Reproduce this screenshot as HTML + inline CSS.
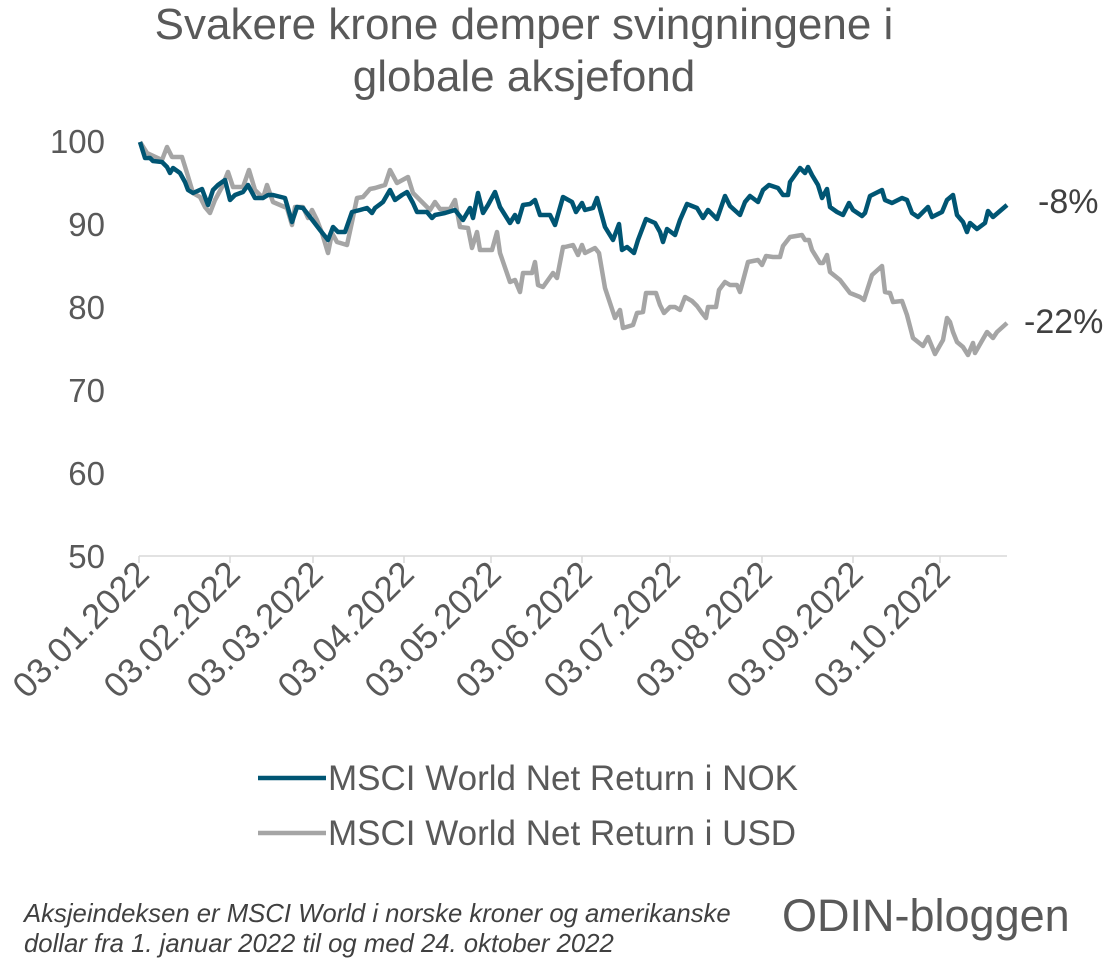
<!DOCTYPE html>
<html><head><meta charset="utf-8"><style>
html,body{margin:0;padding:0;background:#fff;}
svg{display:block;font-family:"Liberation Sans",Arial,sans-serif;}
</style></head><body>
<svg width="1116" height="966" viewBox="0 0 1116 966" xmlns="http://www.w3.org/2000/svg">
<rect width="1116" height="966" fill="#fff"/>
<g fill="#595959" font-size="44" text-anchor="middle">
<text x="524" y="39">Svakere krone demper svingningene i</text>
<text x="524" y="91">globale aksjefond</text>
</g>
<g fill="#595959" font-size="33" text-anchor="end">
<text x="105" y="153">100</text>
<text x="105" y="236">90</text>
<text x="105" y="319">80</text>
<text x="105" y="402">70</text>
<text x="105" y="485">60</text>
<text x="105" y="568">50</text>
</g>
<line x1="139" y1="556" x2="1007" y2="556" stroke="#d9d9d9" stroke-width="1.5"/>
<g stroke="#d9d9d9" stroke-width="1.5">
<line x1="139" y1="556" x2="139" y2="563"/><line x1="230" y1="556" x2="230" y2="563"/><line x1="313" y1="556" x2="313" y2="563"/><line x1="404" y1="556" x2="404" y2="563"/><line x1="491" y1="556" x2="491" y2="563"/><line x1="582" y1="556" x2="582" y2="563"/><line x1="670" y1="556" x2="670" y2="563"/><line x1="762" y1="556" x2="762" y2="563"/><line x1="853" y1="556" x2="853" y2="563"/><line x1="940" y1="556" x2="940" y2="563"/>
</g>
<g fill="#595959" font-size="35" text-anchor="end">
<text transform="translate(151,576) rotate(-45)">03.01.2022</text>
<text transform="translate(242,576) rotate(-45)">03.02.2022</text>
<text transform="translate(325,576) rotate(-45)">03.03.2022</text>
<text transform="translate(416,576) rotate(-45)">03.04.2022</text>
<text transform="translate(503,576) rotate(-45)">03.05.2022</text>
<text transform="translate(594,576) rotate(-45)">03.06.2022</text>
<text transform="translate(682,576) rotate(-45)">03.07.2022</text>
<text transform="translate(774,576) rotate(-45)">03.08.2022</text>
<text transform="translate(865,576) rotate(-45)">03.09.2022</text>
<text transform="translate(952,576) rotate(-45)">03.10.2022</text>
</g>
<polyline fill="none" stroke="#a5a5a5" stroke-width="4.5" stroke-linejoin="round" points="140,142 147,153 162,160 167,147 172,157 182,157 187,173 193,193 200,197 205,207 210,213 215,200 222,187 228,172 233,187 243,187 249,170 255,190 263,198 267,185 273,202 287,208 292,225 295,207 303,207 308,218 312,210 317,220 322,233 328,253 332,233 337,242 347,245 352,222 357,198 363,197 370,189 375,188 385,185 390,170 397,183 408,177 413,193 422,202 430,210 435,202 440,209 450,209 455,200 460,227 468,228 472,248 477,232 480,250 492,250 497,232 500,253 510,282 515,280 520,292 523,273 532,273 535,262 538,285 543,287 553,273 557,278 563,247 565,247 573,245 578,255 582,245 585,253 595,248 599,253 605,288 615,318 620,310 623,328 633,325 637,313 643,312 646,293 656,293 660,305 664,313 670,307 675,307 680,310 685,297 692,301 697,306 702,313 706,318 708,307 716,307 719,290 725,282 730,285 737,285 740,292 748,262 758,260 762,265 766,256 773,257 780,257 783,246 790,237 802,235 805,240 809,240 812,250 820,263 823,263 827,255 830,272 840,280 850,293 860,297 864,300 872,275 882,266 885,292 890,293 893,302 902,301 907,315 913,338 923,346 928,337 935,354 943,340 947,318 950,322 953,332 957,342 963,347 968,355 973,343 975,353 987,332 993,338 997,332 1007,323"/>
<polyline fill="none" stroke="#005573" stroke-width="4.5" stroke-linejoin="round" points="140,142 145,158 150,158 153,161 162,162 167,167 170,173 173,168 180,173 185,182 188,190 193,193 202,189 208,205 213,190 218,185 225,180 230,200 235,195 243,192 248,185 255,198 263,198 268,195 273,195 285,198 292,222 297,207 303,208 310,217 320,230 328,240 333,227 338,232 345,232 352,212 360,210 367,208 372,213 375,208 383,202 390,190 395,200 402,195 407,192 413,203 417,212 427,212 432,218 435,215 445,213 455,210 463,220 470,208 473,218 478,193 483,213 488,205 495,192 500,207 505,215 510,223 515,215 518,222 523,205 530,204 535,200 540,215 550,215 555,225 563,197 572,202 576,212 582,203 585,210 593,208 597,198 605,227 613,240 619,224 622,250 627,247 634,253 638,240 646,219 655,223 660,232 663,242 667,229 675,235 680,220 687,204 697,208 703,218 708,210 717,219 725,196 730,206 740,215 745,202 750,196 758,202 763,190 769,185 778,188 783,195 788,195 790,182 800,168 805,173 808,167 812,175 818,185 822,198 827,189 830,207 837,212 843,215 849,203 853,210 862,216 865,213 870,196 882,190 885,200 892,203 902,198 907,200 912,213 918,217 928,207 932,217 942,212 947,200 953,195 957,215 963,222 967,232 970,223 977,229 985,223 988,211 993,217 1007,205"/>
<g fill="#404040" font-size="34">
<text x="1038" y="213">-8%</text>
<text x="1024" y="333">-22%</text>
</g>
<line x1="258" y1="778" x2="326" y2="778" stroke="#005573" stroke-width="4.5"/>
<line x1="258" y1="833" x2="326" y2="833" stroke="#a5a5a5" stroke-width="4.5"/>
<g fill="#595959" font-size="35">
<text x="328" y="790">MSCI World Net Return i NOK</text>
<text x="328" y="845">MSCI World Net Return i USD</text>
</g>
<g fill="#404040" font-size="25.7" font-style="italic">
<text x="24" y="922">Aksjeindeksen er MSCI World i norske kroner og amerikanske</text>
<text x="24" y="952">dollar fra 1. januar 2022 til og med 24. oktober 2022</text>
</g>
<text x="782" y="931" fill="#595959" font-size="45">ODIN-bloggen</text>
</svg>
</body></html>
